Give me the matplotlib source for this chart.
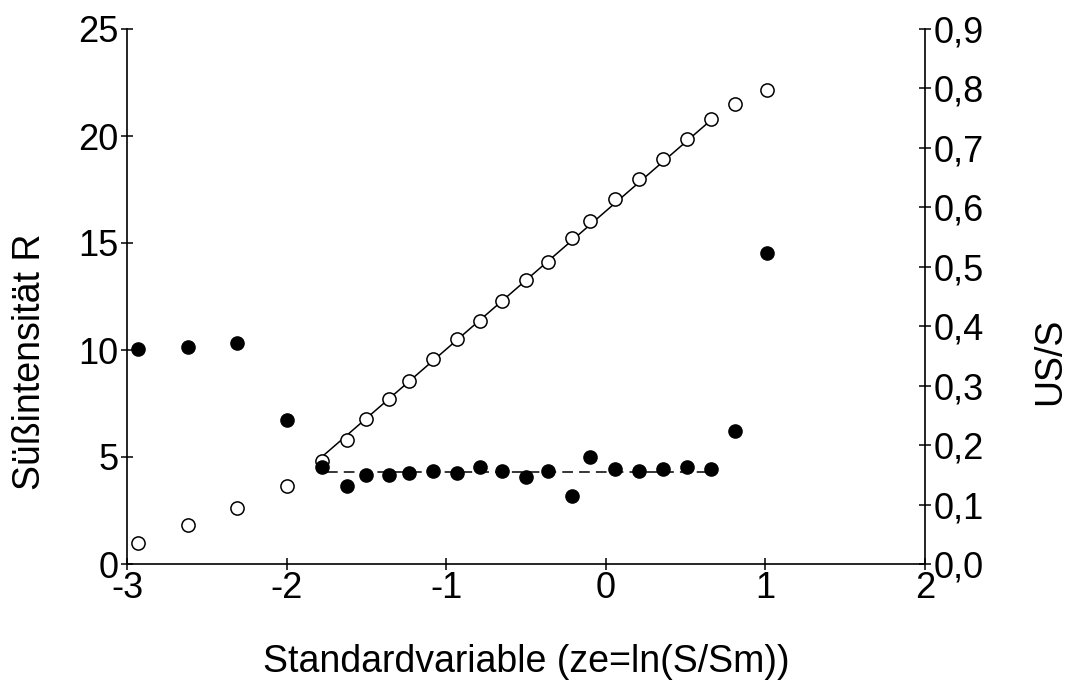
import matplotlib
matplotlib.use("Agg")
import matplotlib.pyplot as plt
from matplotlib.ticker import FuncFormatter

plt.rcParams['font.family'] = ['Liberation Sans', 'DejaVu Sans']

# Data
ze = [-2.93, -2.62, -2.31, -2.00, -1.78, -1.62, -1.50, -1.36, -1.23, -1.08, -0.93, -0.79,
      -0.65, -0.50, -0.36, -0.21, -0.10, 0.06, 0.21, 0.36, 0.51, 0.66, 0.81, 1.01]
R = [0.97, 1.81, 2.63, 3.66, 4.81, 5.79, 6.76, 7.69, 8.57, 9.58, 10.51, 11.36,
     12.29, 13.27, 14.11, 15.23, 16.03, 17.04, 17.99, 18.91, 19.84, 20.78, 21.51, 22.15]
US_S = [0.362, 0.365, 0.372, 0.243, 0.163, 0.132, 0.149, 0.149, 0.153, 0.156, 0.153, 0.163,
        0.156, 0.146, 0.156, 0.115, 0.180, 0.159, 0.156, 0.159, 0.163, 0.159, 0.224, 0.523]
fit_R_x = [-1.78, 0.665]
fit_R_y = [5.0, 20.78]
fit_U_x = [-1.75, 0.685]
fit_U_y = [0.154, 0.154]

xticks = [-3, -2, -1, 0, 1, 2]
yticks_left = [0, 5, 10, 15, 20, 25]
yticks_right = [0.0, 0.1, 0.2, 0.3, 0.4, 0.5, 0.6, 0.7, 0.8, 0.9]

fig = plt.figure(figsize=(10.77, 6.81), dpi=100)
ax = fig.add_axes([127/1077, 117/681, (925-127)/1077, (564-29)/681])
ax2 = ax.twinx()

ax.plot(fit_R_x, fit_R_y, color='black', lw=1.1, zorder=2)
ax.plot(ze, R, 'o', ms=9.5, mfc='white', mec='black', mew=1.1, zorder=3)
ax2.plot(fit_U_x, fit_U_y, color='black', lw=1.1, dashes=(7, 4), zorder=2)
ax2.plot(ze, US_S, 'o', ms=9.5, mfc='black', mec='black', zorder=3)

ax.set_xlim(-3, 2)
ax.set_ylim(0, 25)
ax2.set_ylim(0, 0.9)
ax.set_xticks(xticks)
ax.set_yticks(yticks_left)
ax2.set_yticks(yticks_right)
ax2.yaxis.set_major_formatter(FuncFormatter(lambda v, p: f"{v:.1f}".replace('.', ',')))
ax.xaxis.set_major_formatter(FuncFormatter(lambda v, p: f"{int(v)}"))

for a in (ax, ax2):
    a.spines['top'].set_visible(False)
    for s in a.spines.values():
        s.set_linewidth(1.2)
ax.spines['right'].set_visible(False)
ax2.spines['left'].set_visible(False)
ax2.spines['bottom'].set_visible(False)

ax.tick_params(axis='y', direction='inout', length=8, width=1.1, labelsize=26, pad=2)
ax.tick_params(axis='x', direction='inout', length=8, width=1.1, labelsize=26, pad=1)
ax2.tick_params(axis='y', direction='inout', length=8, width=1.1, labelsize=26, pad=2)

ax.set_xlabel('Standardvariable (ze=ln(S/Sm))', fontsize=27, va='center', ha='center')
ax.xaxis.set_label_coords(0.5, -0.183)
ax.set_ylabel('Süßintensität R', fontsize=27, va='center', ha='center')
ax.yaxis.set_label_coords(-0.1216, 0.378)
ax2.set_ylabel('US/S', fontsize=27, rotation=90, va='center', ha='center')
ax2.yaxis.set_label_coords(1.1566, 0.378)

fig.savefig('out.png', dpi=100)
